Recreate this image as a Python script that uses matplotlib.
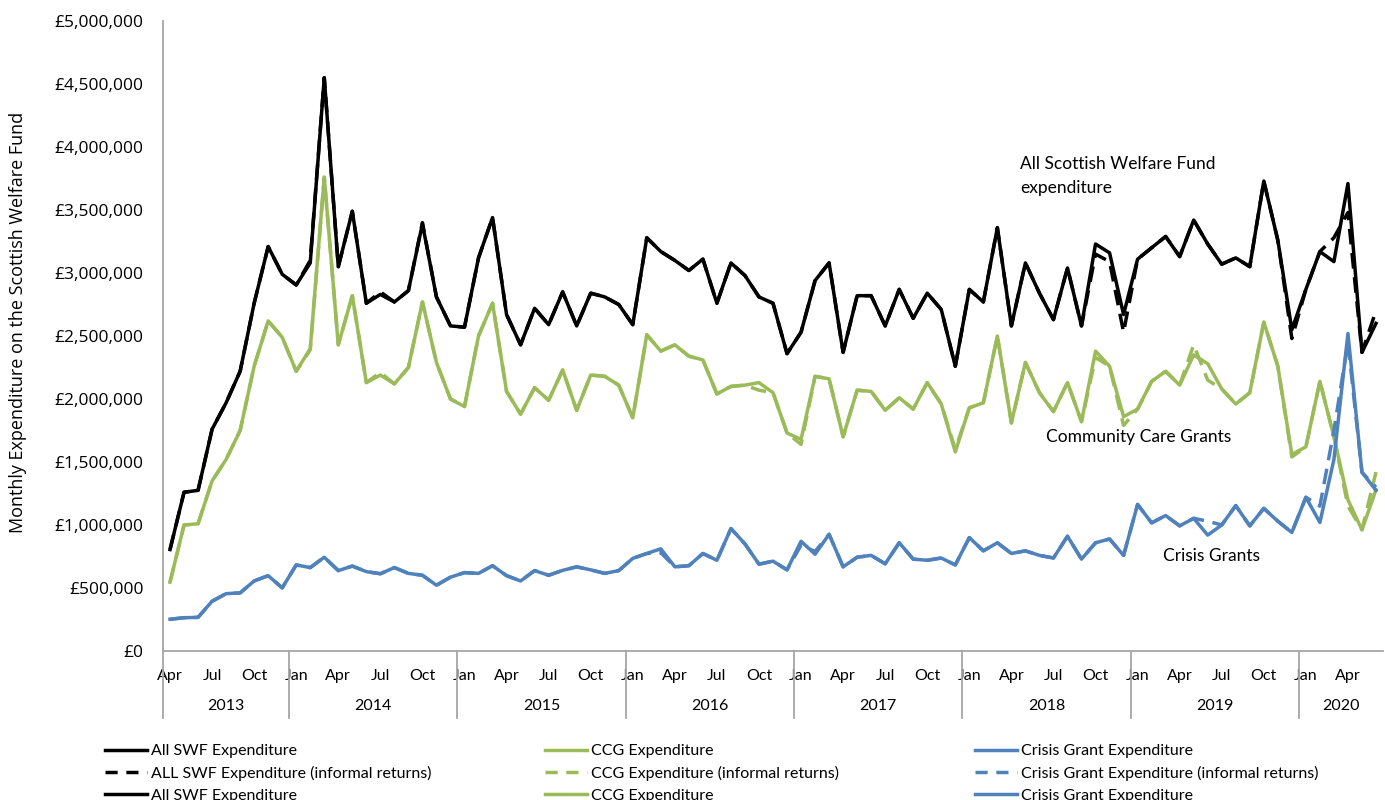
#!/usr/bin/env python
# -*- coding: utf-8 -*-

import pandas as pd
import matplotlib
matplotlib.use('Agg')
import matplotlib.pyplot as plt
import matplotlib.transforms as mtransforms
from matplotlib.lines import Line2D
from matplotlib.ticker import FuncFormatter

# Monthly expenditure, April 2013 - June 2020, in GBP thousands
months = pd.date_range('2013-04-01', periods=87, freq='MS')

swf_all = [805, 1260, 1275, 1760, 1970, 2220, 2760, 3210, 2990, 2905, 3080, 4550,
           3050, 3490, 2760, 2830, 2770, 2860, 3390, 2810, 2580, 2570, 3120, 3440,
           2670, 2430, 2720, 2590, 2850, 2580, 2840, 2810, 2750, 2590, 3280, 3170,
           3100, 3020, 3110, 2760, 3080, 2980, 2810, 2760, 2360, 2530, 2940, 3080,
           2370, 2820, 2820, 2580, 2870, 2640, 2840, 2710, 2260, 2870, 2770, 3360,
           2580, 3080, 2840, 2630, 3040, 2580, 3230, 3160, 2670, 3110, 3200, 3290,
           3130, 3420, 3230, 3070, 3120, 3050, 3730, 3260, 2550, 2870, 3170, 3090,
           3710, 2370, 2600]
swf_informal = [805, 1260, 1275, 1760, 1970, 2220, 2760, 3210, 2990, 2905, 3100, 4550,
                3050, 3490, 2760, 2850, 2770, 2860, 3400, 2810, 2580, 2570, 3120, 3440,
                2670, 2430, 2720, 2590, 2850, 2580, 2840, 2810, 2750, 2590, 3280, 3170,
                3100, 3020, 3110, 2760, 3080, 2980, 2810, 2760, 2360, 2530, 2940, 3080,
                2370, 2820, 2820, 2580, 2870, 2640, 2840, 2710, 2260, 2870, 2770, 3360,
                2580, 3080, 2840, 2630, 3040, 2580, 3150, 3090, 2530, 3110, 3200, 3290,
                3130, 3420, 3230, 3070, 3120, 3050, 3730, 3260, 2480, 2870, 3170, 3280,
                3480, 2370, 2700]

ccg = [546, 1000, 1010, 1350, 1520, 1750, 2260, 2620, 2490, 2220, 2400, 3760,
       2430, 2820, 2130, 2190, 2120, 2250, 2770, 2290, 2000, 1940, 2500, 2760,
       2060, 1880, 2090, 1990, 2230, 1910, 2190, 2180, 2110, 1850, 2510, 2380,
       2430, 2340, 2310, 2040, 2100, 2110, 2130, 2050, 1730, 1680, 2180, 2160,
       1700, 2070, 2060, 1910, 2010, 1920, 2130, 1960, 1580, 1930, 1970, 2500,
       1810, 2290, 2050, 1900, 2130, 1820, 2380, 2260, 1860, 1920, 2140, 2220,
       2110, 2350, 2280, 2080, 1960, 2050, 2610, 2260, 1560, 1620, 2140, 1700,
       1200, 962, 1280]
ccg_informal = [546, 1000, 1010, 1350, 1520, 1750, 2260, 2620, 2490, 2220, 2390, 3760,
                2430, 2820, 2130, 2210, 2120, 2250, 2770, 2290, 2000, 1940, 2500, 2760,
                2060, 1880, 2090, 1990, 2230, 1910, 2190, 2180, 2110, 1850, 2510, 2380,
                2430, 2340, 2310, 2040, 2100, 2110, 2070, 2050, 1730, 1640, 2180, 2160,
                1700, 2070, 2060, 1910, 2010, 1920, 2130, 1960, 1600, 1930, 1970, 2500,
                1810, 2290, 2050, 1900, 2130, 1820, 2330, 2260, 1790, 1920, 2140, 2220,
                2110, 2430, 2150, 2080, 1960, 2050, 2610, 2260, 1540, 1620, 2140, 1700,
                1150, 962, 1420]

crisis = [252, 264, 267, 395, 455, 461, 556, 598, 501, 683, 662, 744,
          638, 674, 630, 613, 662, 616, 601, 522, 586, 622, 616, 677,
          598, 556, 638, 601, 640, 668, 644, 616, 638, 735, 774, 811,
          668, 677, 774, 720, 972, 850, 689, 713, 644, 871, 768, 926,
          668, 744, 759, 692, 859, 729, 720, 738, 683, 900, 795, 859,
          774, 795, 759, 738, 911, 729, 859, 889, 759, 1163, 1017, 1075,
          993, 1053, 920, 1000, 1154, 993, 1132, 1030, 941, 1220, 1020, 1520,
          2520, 1418, 1275]
crisis_informal = [252, 264, 267, 395, 455, 461, 556, 598, 501, 683, 662, 744,
                   638, 674, 630, 613, 662, 616, 601, 522, 586, 622, 616, 677,
                   598, 556, 638, 601, 640, 668, 644, 616, 638, 735, 774, 780,
                   668, 677, 774, 720, 972, 850, 689, 713, 644, 840, 790, 926,
                   668, 744, 759, 692, 859, 729, 720, 738, 683, 900, 795, 859,
                   774, 795, 759, 738, 911, 729, 859, 889, 759, 1163, 1017, 1075,
                   993, 1053, 1030, 1000, 1154, 993, 1132, 1030, 941, 1220, 1150, 1750,
                   2450, 1418, 1300]

BLACK = '#000000'
GREEN = '#9BBB59'
BLUE = '#4F81BD'
GREY = '#A6A6A6'
LW = 2.5
DASH = (0, (4.5, 2.5))

fig = plt.figure(figsize=(13.85, 8.0), dpi=100)
ax = fig.add_axes([163 / 1385, 149 / 800, 1220 / 1385, 630 / 800])

x = list(range(len(months)))
k = 1000
ax.plot(x, [v * k for v in swf_informal], color=BLACK, lw=LW, ls=DASH)
ax.plot(x, [v * k for v in swf_all], color=BLACK, lw=LW)
ax.plot(x, [v * k for v in ccg_informal], color=GREEN, lw=LW, ls=DASH)
ax.plot(x, [v * k for v in ccg], color=GREEN, lw=LW)
ax.plot(x, [v * k for v in crisis_informal], color=BLUE, lw=LW, ls=DASH)
ax.plot(x, [v * k for v in crisis], color=BLUE, lw=LW)

ax.set_xlim(-0.5, len(months) - 0.5)
ax.set_ylim(0, 5000000)
ax.set_yticks(range(0, 5000001, 500000))
ax.yaxis.set_major_formatter(FuncFormatter(lambda v, p: '£{:,.0f}'.format(v)))
ax.tick_params(axis='y', length=0, pad=14, labelsize=12.5)
for lab in ax.get_yticklabels():
    lab.set_family('Open Sans')

for s in ['top', 'right']:
    ax.spines[s].set_visible(False)
for s in ['left', 'bottom']:
    ax.spines[s].set_color(GREY)
    ax.spines[s].set_linewidth(1.3)

# month labels (quarters) and year groups
month_names = {1: 'Jan', 4: 'Apr', 7: 'Jul', 10: 'Oct'}
qt = [i for i, m in enumerate(months) if m.month in month_names]
ax.set_xticks(qt)
ax.set_xticklabels([month_names[months[i].month] for i in qt],
                   fontsize=11.5, family='Lato')
ax.tick_params(axis='x', length=0, pad=13)

trans = mtransforms.blended_transform_factory(ax.transData, ax.transAxes)
years = sorted(set(m.year for m in months))
bottom = -67 / 630
for yr in years:
    idx = [i for i, m in enumerate(months) if m.year == yr]
    ax.add_line(Line2D([idx[0] - 0.5, idx[0] - 0.5], [0, bottom], transform=trans,
                       color=GREY, lw=1.3, clip_on=False))
    ax.text((idx[0] + idx[-1]) / 2, -55 / 630, str(yr), transform=trans,
            ha='center', va='center', fontsize=11.5, family='Lato')

# series annotations
fig.text(1020 / 1385, 1 - 176 / 800, 'All Scottish Welfare Fund\nexpenditure',
         fontsize=12.5, family='Lato', va='center', linespacing=1.55)
fig.text(1046 / 1385, 1 - 437 / 800, 'Community Care Grants', fontsize=12.5,
         family='Lato', va='center')
fig.text(1163 / 1385, 1 - 556 / 800, 'Crisis Grants', fontsize=12.5,
         family='Lato', va='center')

fig.text(18 / 1385, 1 - 322 / 800, 'Monthly Expenditure on the Scottish Welfare Fund',
         rotation=90, ha='center', va='center', fontsize=13, family='Open Sans')

# legend, three columns; third row sits on the bottom edge as in the original
leg_cols = [
    (BLACK, ['All SWF Expenditure', 'ALL SWF Expenditure (informal returns)', 'All SWF Expenditure'], 105),
    (GREEN, ['CCG Expenditure', 'CCG Expenditure (informal returns)', 'CCG Expenditure'], 545),
    (BLUE, ['Crisis Grant Expenditure', 'Crisis Grant Expenditure (informal returns)', 'Crisis Grant Expenditure'], 975),
]
for color, labels, xpos in leg_cols:
    handles = [Line2D([], [], color=color, lw=LW),
               Line2D([], [], color=color, lw=LW, ls=(0, (3.5, 2.5))),
               Line2D([], [], color=color, lw=LW)]
    fig.legend(handles, labels, loc='upper left', bbox_to_anchor=(xpos / 1385, 1 - 744 / 800),
               frameon=False, handlelength=2.6, handletextpad=0.25, labelspacing=0.48,
               borderpad=0, borderaxespad=0,
               prop={'family': 'Lato', 'size': 11.5})

fig.savefig('out.png', dpi=100)
